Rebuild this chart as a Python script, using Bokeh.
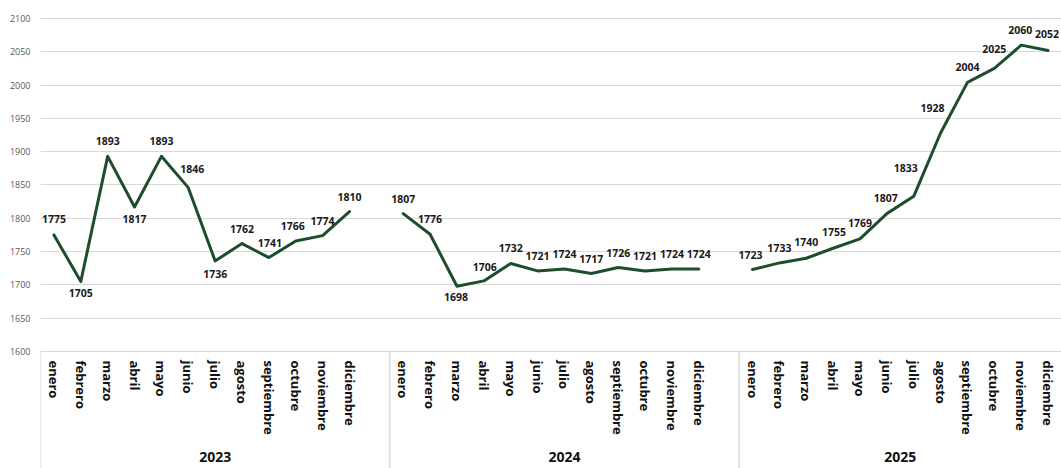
from bokeh.plotting import figure
from bokeh.models import FactorRange, Range1d, FixedTicker, ColumnDataSource
from bokeh.core.properties import value
from bokeh.embed import file_html
from bokeh.resources import INLINE

# ---------------- data ----------------
years = ["2023", "2024", "2025"]
months = ["enero", "febrero", "marzo", "abril", "mayo", "junio", "julio",
          "agosto", "septiembre", "octubre", "noviembre", "diciembre"]

values_2023 = [1775, 1705, 1893, 1817, 1893, 1846, 1736, 1762, 1741, 1766, 1774, 1810]
values_2024 = [1807, 1776, 1698, 1706, 1732, 1721, 1724, 1717, 1726, 1721, 1724, 1724]
values_2025 = [1723, 1733, 1740, 1755, 1769, 1807, 1833, 1928, 2004, 2025, 2060, 2052]

y_ticks = [1600, 1650, 1700, 1750, 1800, 1850, 1900, 1950, 2000, 2050, 2100]

# data-label placement (screen px offsets from the point)
label_dx_2023 = [0, 0, 0, 0, 0, 4, 0, 0, 1, -3, 0, 0]
label_dy_2023 = [-16, 11, -15, 12, -15, -19, 13, -15, -15, -15, -15, -15]
label_dx_2024 = [0, 0, -1, 1, 0, 0, 0, 0, 0, 0, 0, 0]
label_dy_2024 = [-15, -15, 11, -14, -16, -15, -15, -15, -15, -15, -15, -15]
label_dx_2025 = [-2, 0, 0, 1, 0, -1, -8, -8, 0, 0, -1, -1]
label_dy_2025 = [-15, -15, -16, -16, -16, -16, -28, -25, -15, -19, -15, -16]

# year-label placement inside each group (offset from the group's "julio" slot)
year_label_shift = [0.0, 0.0, -0.5]

series = {"2023": values_2023, "2024": values_2024, "2025": values_2025}
label_dx = {"2023": label_dx_2023, "2024": label_dx_2024, "2025": label_dx_2025}
label_dy = {"2023": label_dy_2023, "2024": label_dy_2024, "2025": label_dy_2025}

# ---------------- styles ----------------
LINE_COLOR = "#1e4d2e"
GRID_COLOR = "#d9d9d9"
FONT = "Open Sans"

Y_TOP = 2127.0
Y_BOTTOM = 1424.3
YEAR_LABEL_Y = 1441.5

factors = [(yr, m) for yr in years for m in months]
x_range = FactorRange(*factors, factor_padding=0, group_padding=1, range_padding=0)

p = figure(width=1061, height=468, x_range=x_range, y_range=Range1d(Y_BOTTOM, Y_TOP),
           output_backend="svg", toolbar_location=None,
           min_border_left=40, min_border_right=0, min_border_top=0, min_border_bottom=0,
           background_fill_color="white", border_fill_color="white",
           outline_line_color=None)

# y axis
p.yaxis.ticker = FixedTicker(ticks=y_ticks)
p.yaxis.axis_line_color = None
p.yaxis.major_tick_line_color = None
p.yaxis.minor_tick_line_color = None
p.yaxis.major_tick_out = 0
p.yaxis.major_tick_in = 0
p.yaxis.major_label_standoff = 10
p.yaxis.major_label_text_font = FONT
p.yaxis.major_label_text_font_size = "9px"
p.yaxis.major_label_text_color = "#595959"

p.ygrid.grid_line_color = GRID_COLOR
p.ygrid.grid_line_width = 1
p.xgrid.grid_line_color = None

# x axis (categorical, nested) placed at 1600
xa = p.xaxis[0]
xa.fixed_location = 1600
xa.axis_line_color = None
xa.major_tick_line_color = None
xa.minor_tick_line_color = None
xa.major_tick_out = 0
xa.major_tick_in = 0
xa.separator_line_color = None
xa.major_label_orientation = "vertical"
xa.major_label_standoff = 9
xa.major_label_text_font = FONT
xa.major_label_text_font_style = "bold"
xa.major_label_text_font_size = "13px"
xa.major_label_text_color = "#111111"
xa.group_text_color = None  # year labels drawn below, lower than the axis would put them

# year labels under each group
year_src = ColumnDataSource(dict(
    x=[(yr, months[6], s) for yr, s in zip(years, year_label_shift)],
    y=[YEAR_LABEL_Y] * len(years),
    txt=years,
))
p.text(x="x", y="y", text="txt", source=year_src, text_align="center",
       text_baseline="middle", text_font=value(FONT), text_font_style="bold",
       text_font_size="14px", text_color="#111111")

# group dividers below the 1600 line
div_src = ColumnDataSource(dict(
    x=[(yr, months[0], -0.5) for yr in years],
    y0=[1600] * len(years),
    y1=[Y_BOTTOM] * len(years),
))
p.segment(x0="x", y0="y0", x1="x", y1="y1", source=div_src,
          line_color=GRID_COLOR, line_width=1.5)

# lines + labels
for yr in years:
    src = ColumnDataSource(dict(
        x=[(yr, m) for m in months],
        y=series[yr],
        txt=[str(v) for v in series[yr]],
        dx=label_dx[yr],
        dy=label_dy[yr],
    ))
    p.line(x="x", y="y", source=src, line_color=LINE_COLOR, line_width=3,
           line_join="round", line_cap="round")
    p.text(x="x", y="y", text="txt", x_offset="dx", y_offset="dy", source=src,
           text_align="center", text_baseline="middle",
           text_font=value(FONT), text_font_style="bold",
           text_font_size="10.5px", text_color="#1a1a1a")

open("out.html", "w").write(file_html(p, INLINE))
